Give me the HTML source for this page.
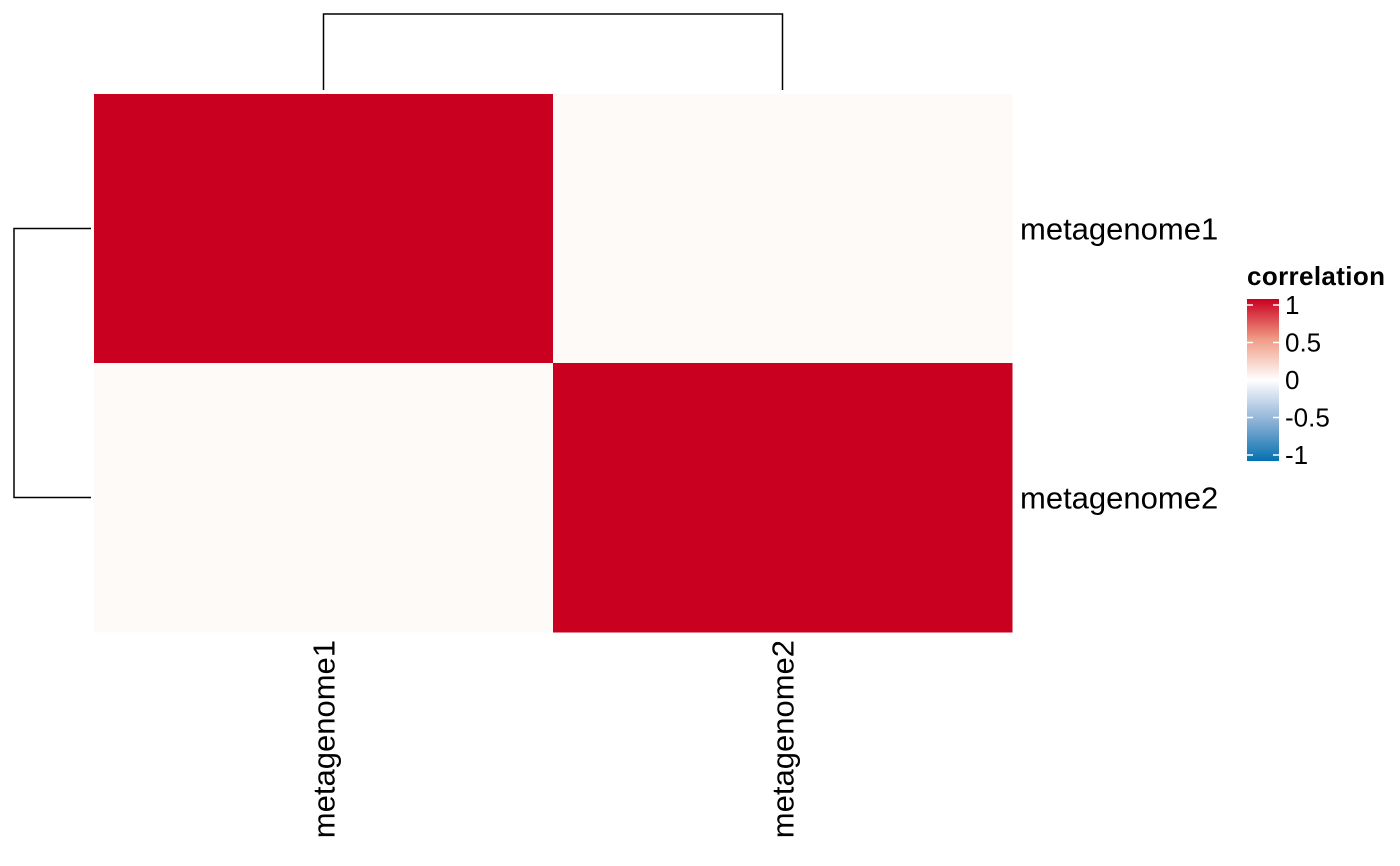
<!DOCTYPE html>
<html><head><meta charset="utf-8"><style>
body{margin:0;background:#fff;}
svg{display:block;font-family:"Liberation Sans",Arial,sans-serif;}
</style></head><body>
<svg id="chart" width="1400" height="866" xmlns="http://www.w3.org/2000/svg">
<defs><linearGradient id="lg" x1="0" y1="0" x2="0" y2="1">
<stop offset="0" stop-color="#CA0020"/><stop offset="0.25" stop-color="#F09C86"/><stop offset="0.5" stop-color="#FFFFFF"/><stop offset="0.75" stop-color="#8FB2D6"/><stop offset="1" stop-color="#0571B0"/></linearGradient></defs>
<g id="cells"></g>
<g id="dend" stroke="#000" stroke-width="1.5" fill="none"></g>
<g id="labels" font-size="31" fill="#000"></g>
<g>
<text x="1247" y="285" font-size="26" font-weight="bold" textLength="138">correlation</text>
<rect x="1247" y="299" width="32" height="162" fill="url(#lg)"/>
<g id="legticks"></g>
</g>
</svg>
<script>
const rowNames=["metagenome1","metagenome2"];
const colNames=["metagenome1","metagenome2"];
const values=[[1,0.03],[0.03,1]];
const legendTicks=[1,0.5,0,-0.5,-1];
const tickLabels=["1","0.5","0","-0.5","-1"];
const NS="http://www.w3.org/2000/svg";
const X0=94,X1=1012,Y0=94,Y1=632;
const cw=(X1-X0)/colNames.length, ch=(Y1-Y0)/rowNames.length;
function lerp(a,b,t){return a.map((c,i)=>Math.round(c+(b[i]-c)*t));}
function color(v){
  const w=[255,255,255];
  const pos=[[244,165,130],[202,0,32]], neg=[[146,197,222],[5,113,176]];
  const s=v>=0?pos:neg, t=Math.min(1,Math.abs(v));
  const c=t<=0.5?lerp(w,s[0],t/0.5):lerp(s[0],s[1],(t-0.5)/0.5);
  return `rgb(${c.join(',')})`;
}
function mk(tag,attrs,parent){const el=document.createElementNS(NS,tag);for(const k in attrs)el.setAttribute(k,attrs[k]);parent.appendChild(el);return el;}
const cellsG=document.getElementById('cells');
values.forEach((row,i)=>row.forEach((v,j)=>{
  const el=mk('rect',{x:X0+j*cw,y:Y0+i*ch,width:cw+0.5,height:ch+0.5,fill:color(v)},cellsG);
  
  
}));
const labG=document.getElementById('labels');
rowNames.forEach((n,i)=>{
  const el=mk('text',{x:1020,y:Y0+(i+0.5)*ch+11},labG);el.textContent=n;
  
  
});
colNames.forEach((n,j)=>{
  const cx=X0+(j+0.5)*cw+11;
  const el=mk('text',{x:cx,y:640,transform:`rotate(-90 ${cx} 640)`,'text-anchor':'end'},labG);el.textContent=n;
  
  
});
const dendG=document.getElementById('dend');
const c1=X0+0.5*cw,c2=X0+1.5*cw;
const colDend=mk('path',{d:`M${c1},90V14H${c2}V90`},dendG);


const r1=Y0+0.5*ch,r2=Y0+1.5*ch;
const rowDend=mk('path',{d:`M91,${r1}H14V${r2}H91`},dendG);


const ltG=document.getElementById('legticks');
const ly=v=>305+(1-v)/2*150;
legendTicks.forEach((v,i)=>{
  const y=ly(v);
  mk('line',{x1:1247,x2:1253,y1:y,y2:y,stroke:'#fff','stroke-width':1.5},ltG);
  mk('line',{x1:1273,x2:1279,y1:y,y2:y,stroke:'#fff','stroke-width':1.5},ltG);
  const t=mk('text',{x:1285,y:y+9,'font-size':26},ltG);t.textContent=tickLabels[i];
  
  
});
</script>
</body></html>
